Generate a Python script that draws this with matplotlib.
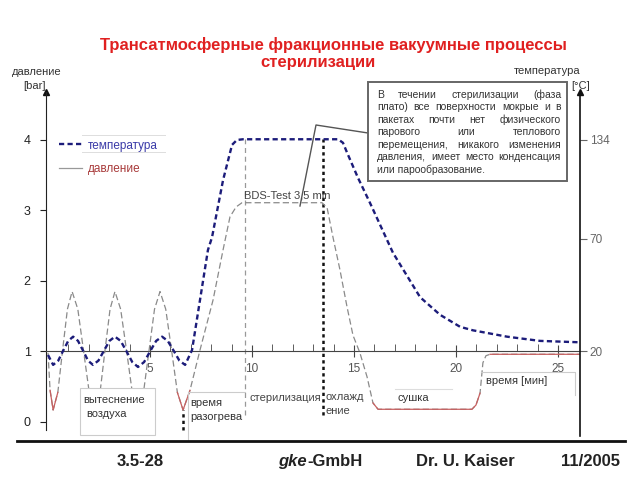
import numpy as np
import matplotlib
matplotlib.use("Agg")
import matplotlib.pyplot as plt
from matplotlib.lines import Line2D
from matplotlib.patches import Rectangle

plt.rcParams['font.family'] = ['Liberation Sans', 'DejaVu Sans']

# ---------------- data ----------------
# time in minutes, pressure in bar
press_t = [0.0, 0.1, 0.25, 0.48, 0.71, 0.95, 1.18, 1.46, 1.74, 2.02, 2.30, 2.55, 2.79, 3.04,
           3.28, 3.56, 3.85, 4.13, 4.41, 4.68, 4.95, 5.22, 5.49, 5.77, 6.06, 6.34, 6.62,
           6.96, 7.45, 8.09, 8.58, 8.92, 9.22, 9.51, 13.43, 13.68, 13.97, 14.31, 14.66,
           14.95, 15.29, 15.64, 15.93, 16.18, 20.78, 20.98, 21.18, 21.32, 21.47, 21.67, 26.08]
press_bar = [0.98, 0.45, 0.17, 0.42, 1.01, 1.60, 1.85, 1.60, 1.01, 0.42, 0.17, 0.42, 1.01, 1.60,
             1.85, 1.60, 1.01, 0.42, 0.17, 0.42, 1.01, 1.60, 1.85, 1.60, 1.01, 0.42, 0.17,
             0.45, 1.02, 1.73, 2.44, 2.91, 3.05, 3.11, 3.11, 3.04, 2.62, 2.16, 1.63,
             1.23, 0.98, 0.64, 0.27, 0.18, 0.18, 0.24, 0.41, 0.84, 0.94, 0.96, 0.96]

# temperature curve, given as its height on the chart (same scale as the right axis ticks)
temp_t = [0.0, 0.25, 0.5, 0.74, 0.99, 1.23, 1.47, 1.72, 1.96, 2.2, 2.47, 2.74, 3.01, 3.28,
          3.56, 3.85, 4.13, 4.41, 4.71, 5.0, 5.30, 5.59, 5.87, 6.16, 6.44, 6.72,
          7.06, 7.45, 7.84, 8.04, 8.58, 9.02, 9.26, 9.56, 14.22, 14.46, 14.66, 15.2,
          15.78, 16.91, 18.24, 19.22, 20.2, 20.83, 22.5, 24.12, 26.08]
temp_level = [0.95, 0.81, 0.87, 1.01, 1.15, 1.21, 1.15, 1.01, 0.87, 0.81, 0.87, 1.01, 1.15, 1.21,
              1.15, 1.00, 0.85, 0.78, 0.85, 1.00, 1.15, 1.21, 1.15, 1.01, 0.87, 0.81,
              1.02, 1.73, 2.44, 2.62, 3.43, 3.93, 4.00, 4.01, 4.01, 3.96, 3.82, 3.46,
              3.11, 2.40, 1.77, 1.52, 1.35, 1.30, 1.21, 1.15, 1.13]

press_ticks = [0, 1, 2, 3, 4]
time_ticks = [5, 10, 15, 20, 25]
temp_tick_labels = ['20', '70', '134']
temp_tick_level = [1.0, 2.6, 4.0]

# phase boundaries (min)
t_heat_end = 9.66
t_steril_end = 13.5
t_evac_end = 6.62

title_lines = ["Трансатмосферные фракционные вакуумные процессы", "стерилизации"]
note_lines = ["В течении стерилизации (фаза",
              "плато) все поверхности мокрые и в",
              "пакетах почти нет физического",
              "парового или теплового",
              "перемещения, никакого изменения",
              "давления, имеет место конденсация",
              "или парообразование."]

# ---------------- figure ----------------
W, H = 640, 480
fig = plt.figure(figsize=(6.4, 4.8), dpi=100)
fx = lambda x: x / W
fy = lambda y: 1 - y / H

ax = fig.add_axes([fx(46), fy(439.6), 534 / W, 350.4 / H])
ax.set_xlim(-0.1, 26.08)
ax.set_ylim(-0.25, 4.72)
ax.patch.set_alpha(0)

pt = np.array(press_t)
pb = np.array(press_bar)
press_line, = ax.plot(pt, pb, color='#8a8a8a', lw=0.9, ls=(0, (5, 2.5)), zorder=3)
red_mask = (pb < 0.5) | (pt >= 21.6)
ax.plot(pt, np.where(red_mask, pb, np.nan), color='#c86060', lw=0.9, zorder=3)
temp_line, = ax.plot(temp_t, temp_level, color='#1c1c7a', lw=1.7, ls=(0, (2.2, 1.4)), zorder=4)

# phase boundary lines
ax.plot([t_heat_end, t_heat_end], [0.1, 4.01], color='#999999', lw=0.9, ls=(0, (4, 3)), zorder=2)
ax.plot([t_steril_end, t_steril_end], [0.1, 4.01], color='#111111', lw=1.8, ls=(0, (1.3, 1.3)), zorder=2)
ax.plot([t_evac_end, t_evac_end], [-0.11, 0.17], color='#111111', lw=1.8, ls=(0, (1.3, 1.3)), zorder=2)

# axes styling
for s in ['top', 'right']:
    ax.spines[s].set_visible(False)
ax.spines['left'].set_bounds(-0.12, 4.68)
ax.spines['left'].set_color('#222222')
ax.spines['bottom'].set_position(('data', 1.0))
ax.spines['bottom'].set_bounds(-0.1, 26.08)
ax.spines['bottom'].set_color('#444444')

ax.set_yticks(press_ticks)
ax.set_yticklabels([str(v) for v in press_ticks])
ax.tick_params(axis='y', direction='out', length=4, pad=7, labelsize=9, colors='#222222')
ax.set_xticks(time_ticks)
ax.set_xticks(range(1, 26), minor=True)
ax.set_xticklabels([str(v) for v in time_ticks])
ax.tick_params(axis='x', which='major', direction='inout', length=8, pad=4,
               labelsize=8.5, color='#444444', labelcolor='#555555')
ax.tick_params(axis='x', which='minor', direction='in', length=5, color='#444444')
ax.plot([-0.1], [4.68], marker='^', ms=4, color='#111111', clip_on=False)

ax2 = ax.twinx()
ax2.set_ylim(ax.get_ylim())
for s in ['top', 'left', 'bottom']:
    ax2.spines[s].set_visible(False)
ax2.spines['right'].set_bounds(-0.2, 4.68)
ax2.spines['right'].set_color('#111111')
ax2.spines['right'].set_linewidth(1.2)
ax2.set_yticks(temp_tick_level)
ax2.set_yticklabels(temp_tick_labels)
ax2.tick_params(axis='y', direction='out', length=5, pad=2, labelsize=8.5,
                color='#666666', labelcolor='#666666')
ax2.plot([26.08], [4.68], marker='^', ms=4, color='#111111', clip_on=False)

# legend
leg = ax.legend(handles=[temp_line, Line2D([], [], color='#999999', lw=0.9)],
                labels=['температура', 'давление'], loc='upper left',
                bbox_to_anchor=(fx(48), fy(129)), bbox_transform=fig.transFigure,
                frameon=False, fontsize=8.5, handlelength=2.0, handletextpad=0.5,
                labelspacing=1.0, labelcolor=['#3a3aa8', '#a83a3a'])
for yy in (135, 152):
    fig.add_artist(Line2D([fx(82), fx(165)], [fy(yy), fy(yy)], color='#dddddd', lw=0.7))

# title
fig.text(fx(333), fy(45), title_lines[0], ha='center', va='center', color='#e02020',
         fontsize=12, fontweight='bold')
fig.text(fx(318), fy(62), title_lines[1], ha='center', va='center', color='#e02020',
         fontsize=12, fontweight='bold')

# axis titles
fig.text(fx(12), fy(72), 'давление', fontsize=8, color='#333333', va='center')
fig.text(fx(23), fy(86), '[bar]', fontsize=8, color='#333333', va='center')
fig.text(fx(514), fy(71), 'температура', fontsize=8, color='#333333', va='center')
fig.text(fx(571), fy(86), '[°C]', fontsize=8, color='#333333', va='center')

# BDS text
fig.text(fx(244), fy(196), 'BDS-Test 3,5 min', fontsize=8, color='#444444', va='center')

# callout
fig.add_artist(Line2D([fx(368), fx(316), fx(300)], [fy(133), fy(125), fy(206)],
                      color='#555555', lw=1.0))
fig.add_artist(Rectangle((fx(368), fy(181)), fx(567) - fx(368), fy(82) - fy(181),
                         transform=fig.transFigure, facecolor='white',
                         edgecolor='#666666', lw=1.4, zorder=5))
renderer = fig.canvas.get_renderer()
left_px, right_px = 377, 561
fs_note = 7.5
for i, line in enumerate(note_lines):
    y = fy(95 + i * 12.4)
    words = line.split()
    if i == len(note_lines) - 1 or len(words) == 1:
        fig.text(fx(left_px), y, line, fontsize=fs_note, color='#333333', va='center', zorder=6)
        continue
    widths = []
    for w in words:
        tt = fig.text(0, 0, w, fontsize=fs_note)
        widths.append(tt.get_window_extent(renderer).width)
        tt.remove()
    gap = (right_px - left_px - sum(widths)) / (len(words) - 1)
    x = left_px
    for w, wd in zip(words, widths):
        fig.text(fx(x), y, w, fontsize=fs_note, color='#333333', va='center', zorder=6)
        x += wd + gap

# phase labels
fig.add_artist(Rectangle((fx(80), fy(435)), fx(155) - fx(80), fy(388) - fy(435),
                         transform=fig.transFigure, facecolor='white',
                         edgecolor='#cccccc', lw=0.8, zorder=5))
fig.text(fx(83), fy(400), 'вытеснение', fontsize=8, color='#333333', va='center', zorder=6)
fig.text(fx(86), fy(414), 'воздуха', fontsize=8, color='#333333', va='center', zorder=6)

fig.add_artist(Line2D([fx(188), fx(188), fx(245)], [fy(440), fy(392), fy(392)], color='#cccccc', lw=0.8))
fig.text(fx(190), fy(403), 'время', fontsize=8, color='#333333', va='center')
fig.text(fx(190), fy(417), 'разогрева', fontsize=8, color='#333333', va='center')

fig.text(fx(250), fy(398), 'стерилизация', fontsize=8, color='#444444', va='center')
fig.text(fx(326), fy(397), 'охлажд', fontsize=8, color='#444444', va='center')
fig.text(fx(326), fy(411), 'ение', fontsize=8, color='#444444', va='center')

fig.add_artist(Line2D([fx(395), fx(452)], [fy(389), fy(389)], color='#dddddd', lw=0.8))
fig.text(fx(398), fy(398), 'сушка', fontsize=8, color='#333333', va='center')

fig.add_artist(Line2D([fx(481), fx(575), fx(575)], [fy(372), fy(372), fy(395)], color='#cccccc', lw=0.8))
fig.text(fx(486), fy(381), 'время [мин]', fontsize=8, color='#333333', va='center')

# footer
fs_f = 12
yb = fy(466)
fig.add_artist(Line2D([fx(17), fx(625)], [fy(441), fy(441)], color='#111111', lw=2.0))
fig.text(fx(140), yb, '3.5-28', fontsize=fs_f, fontweight='bold', ha='center', va='baseline', color='#222222')
fig.text(fx(307), yb, 'gke', fontsize=fs_f, fontweight='bold', fontstyle='italic', ha='right', va='baseline', color='#222222')
fig.text(fx(307), yb, '-GmbH', fontsize=fs_f, fontweight='bold', ha='left', va='baseline', color='#222222')
fig.text(fx(465), yb, 'Dr. U. Kaiser', fontsize=fs_f, fontweight='bold', ha='center', va='baseline', color='#222222')
fig.text(fx(591), yb, '11/2005', fontsize=fs_f, fontweight='bold', ha='center', va='baseline', color='#222222')

fig.savefig('out.png', dpi=100)
